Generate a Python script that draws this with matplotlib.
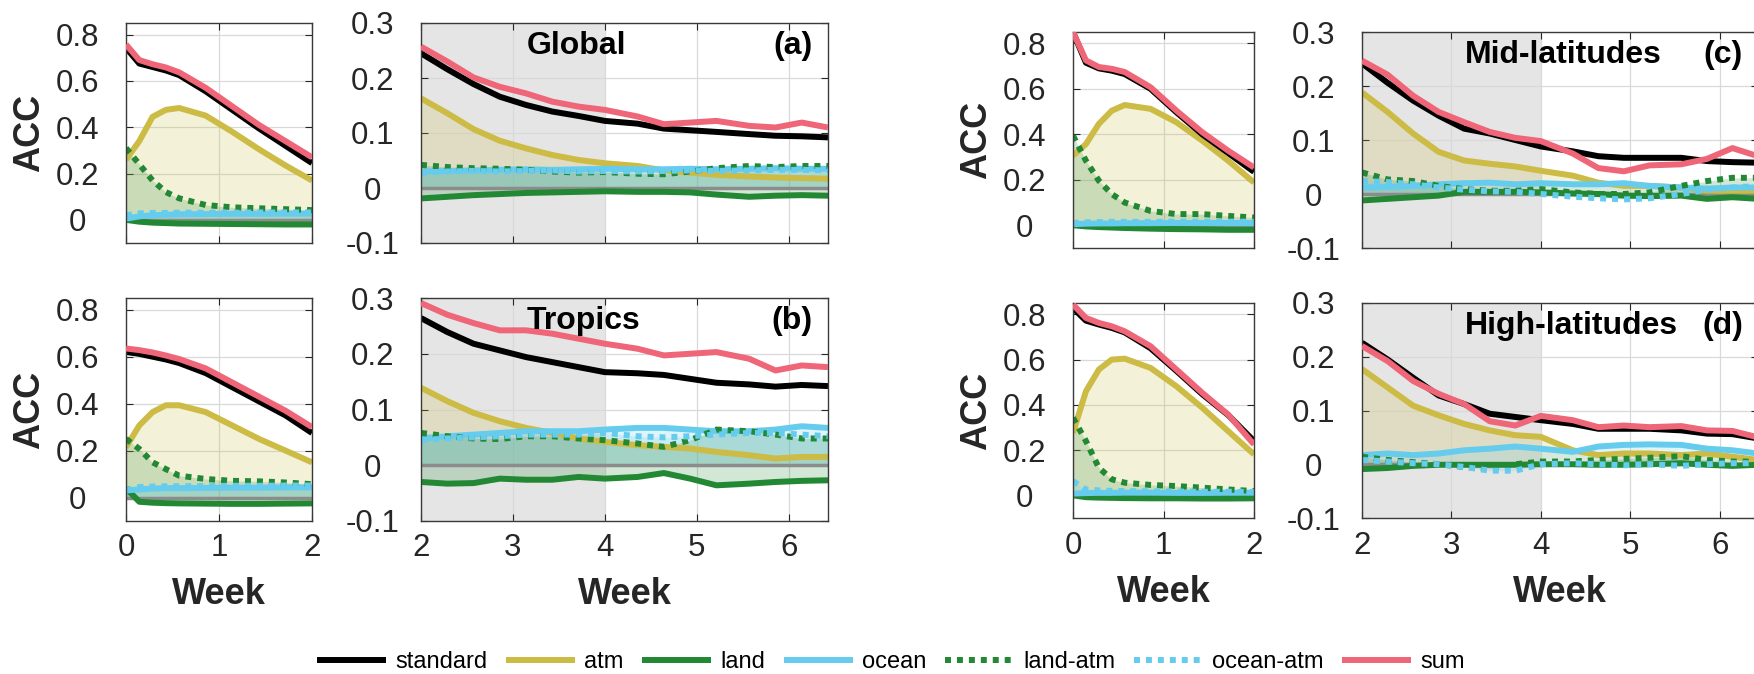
import numpy as np
import matplotlib
matplotlib.use("Agg")
import matplotlib.pyplot as plt

plt.rcParams["font.family"] = ["Liberation Sans", "DejaVu Sans"]
plt.rcParams["axes.unicode_minus"] = False

# lead times (days) for the short-range (0-2 wk) and long-range (2-6.4 wk) panels
days_early = [0, 1, 2, 3, 4, 6, 8, 10, 12, 14]
days_late = [14, 16, 18, 20, 22, 24, 26, 28, 30.5, 32.5, 34.5, 36.5, 39, 41, 43, 45]

# ---- Global (a)
global_early = {
    "standard": [0.743, 0.675, 0.66, 0.645, 0.625, 0.555, 0.475, 0.395, 0.32, 0.245],
    "sum": [0.757, 0.69, 0.672, 0.658, 0.637, 0.57, 0.49, 0.41, 0.34, 0.27],
    "atm": [0.26, 0.34, 0.445, 0.475, 0.483, 0.45, 0.38, 0.305, 0.235, 0.17],
    "land-atm": [0.31, 0.24, 0.17, 0.12, 0.093, 0.064, 0.054, 0.05, 0.046, 0.042],
    "ocean": [0.005, 0.015, 0.02, 0.022, 0.024, 0.025, 0.026, 0.026, 0.027, 0.027],
    "ocean-atm": [0.02, 0.028, 0.03, 0.03, 0.031, 0.031, 0.031, 0.032, 0.032, 0.032],
    "land": [0.0, -0.008, -0.012, -0.014, -0.016, -0.017, -0.018, -0.019, -0.02, -0.02],
}
global_late = {
    "standard": [0.245, 0.216, 0.189, 0.166, 0.151, 0.139, 0.131, 0.122, 0.117, 0.108, 0.105, 0.102, 0.098, 0.095, 0.094, 0.092],
    "sum": [0.257, 0.23, 0.201, 0.184, 0.172, 0.157, 0.148, 0.142, 0.13, 0.116, 0.119, 0.122, 0.113, 0.11, 0.119, 0.11],
    "atm": [0.163, 0.136, 0.107, 0.086, 0.072, 0.06, 0.051, 0.045, 0.04, 0.032, 0.028, 0.024, 0.021, 0.019, 0.018, 0.017],
    "land-atm": [0.042, 0.038, 0.036, 0.035, 0.033, 0.03, 0.028, 0.029, 0.026, 0.025, 0.03, 0.036, 0.04, 0.038, 0.04, 0.04],
    "ocean": [0.03, 0.031, 0.032, 0.033, 0.034, 0.033, 0.034, 0.035, 0.034, 0.034, 0.035, 0.034, 0.035, 0.036, 0.035, 0.035],
    "ocean-atm": [0.028, 0.03, 0.031, 0.03, 0.031, 0.032, 0.03, 0.031, 0.03, 0.031, 0.032, 0.031, 0.032, 0.033, 0.033, 0.032],
    "land": [-0.019, -0.016, -0.013, -0.011, -0.009, -0.008, -0.007, -0.006, -0.007, -0.007, -0.008, -0.012, -0.016, -0.014, -0.013, -0.014],
}

# ---- Tropics (b)
tropics_early = {
    "standard": [0.62, 0.612, 0.6, 0.588, 0.573, 0.53, 0.47, 0.41, 0.35, 0.275],
    "sum": [0.635, 0.628, 0.618, 0.605, 0.59, 0.55, 0.49, 0.43, 0.37, 0.3],
    "atm": [0.214, 0.307, 0.364, 0.393, 0.393, 0.364, 0.307, 0.25, 0.2, 0.15],
    "land-atm": [0.25, 0.207, 0.15, 0.121, 0.093, 0.079, 0.071, 0.069, 0.064, 0.057],
    "ocean": [0.03, 0.035, 0.038, 0.04, 0.04, 0.041, 0.042, 0.042, 0.043, 0.043],
    "ocean-atm": [0.03, 0.045, 0.047, 0.048, 0.048, 0.049, 0.05, 0.05, 0.051, 0.051],
    "land": [0.04, -0.018, -0.022, -0.024, -0.025, -0.026, -0.027, -0.027, -0.026, -0.025],
}
tropics_late = {
    "standard": [0.264, 0.239, 0.218, 0.206, 0.194, 0.185, 0.176, 0.167, 0.165, 0.162, 0.155, 0.148, 0.145, 0.141, 0.144, 0.142],
    "sum": [0.291, 0.27, 0.255, 0.242, 0.242, 0.236, 0.227, 0.218, 0.209, 0.197, 0.2, 0.203, 0.191, 0.17, 0.179, 0.176],
    "atm": [0.139, 0.115, 0.094, 0.079, 0.067, 0.058, 0.048, 0.042, 0.036, 0.033, 0.03, 0.024, 0.018, 0.012, 0.015, 0.015],
    "land-atm": [0.058, 0.052, 0.048, 0.047, 0.052, 0.052, 0.048, 0.045, 0.039, 0.033, 0.045, 0.064, 0.061, 0.055, 0.048, 0.048],
    "ocean": [0.048, 0.052, 0.055, 0.058, 0.061, 0.061, 0.061, 0.064, 0.067, 0.067, 0.064, 0.061, 0.061, 0.064, 0.07, 0.067],
    "ocean-atm": [0.045, 0.048, 0.05, 0.052, 0.055, 0.055, 0.055, 0.058, 0.052, 0.05, 0.052, 0.055, 0.058, 0.058, 0.055, 0.052],
    "land": [-0.03, -0.033, -0.032, -0.024, -0.026, -0.026, -0.021, -0.024, -0.021, -0.014, -0.024, -0.036, -0.033, -0.03, -0.028, -0.027],
}

# ---- Mid-latitudes (c)
mid_early = {
    "standard": [0.85, 0.715, 0.69, 0.68, 0.665, 0.6, 0.497, 0.4, 0.318, 0.235],
    "sum": [0.85, 0.725, 0.696, 0.688, 0.674, 0.607, 0.504, 0.409, 0.328, 0.254],
    "atm": [0.306, 0.357, 0.446, 0.504, 0.529, 0.512, 0.453, 0.372, 0.284, 0.188],
    "land-atm": [0.394, 0.284, 0.196, 0.137, 0.1, 0.063, 0.049, 0.049, 0.041, 0.034],
    "ocean": [0.005, 0.007, 0.008, 0.008, 0.009, 0.009, 0.01, 0.01, 0.01, 0.01],
    "ocean-atm": [0.01, 0.013, 0.014, 0.015, 0.015, 0.015, 0.016, 0.016, 0.016, 0.016],
    "land": [0.0, -0.005, -0.008, -0.01, -0.012, -0.015, -0.017, -0.018, -0.02, -0.02],
}
mid_late = {
    "standard": [0.242, 0.206, 0.173, 0.145, 0.121, 0.112, 0.1, 0.088, 0.079, 0.07, 0.067, 0.067, 0.067, 0.061, 0.059, 0.058],
    "sum": [0.247, 0.221, 0.182, 0.152, 0.133, 0.115, 0.104, 0.098, 0.075, 0.048, 0.042, 0.053, 0.055, 0.065, 0.085, 0.07],
    "atm": [0.188, 0.152, 0.112, 0.078, 0.062, 0.056, 0.051, 0.043, 0.034, 0.021, 0.015, 0.015, 0.012, 0.006, 0.006, 0.006],
    "land-atm": [0.04, 0.027, 0.024, 0.015, 0.009, 0.006, 0.006, 0.009, 0.003, 0.0, 0.0, 0.003, 0.015, 0.024, 0.03, 0.03],
    "ocean": [0.012, 0.013, 0.015, 0.018, 0.02, 0.021, 0.018, 0.02, 0.018, 0.018, 0.02, 0.015, 0.012, 0.01, 0.012, 0.012],
    "ocean-atm": [0.024, 0.022, 0.018, 0.012, 0.008, 0.005, 0.004, 0.0, -0.005, -0.008, -0.01, -0.008, 0.0, 0.008, 0.012, 0.015],
    "land": [-0.012, -0.009, -0.006, -0.003, 0.004, 0.004, 0.004, 0.003, 0.001, 0.0, -0.003, -0.004, -0.003, -0.009, -0.006, -0.009],
}

# ---- High-latitudes (d)
high_early = {
    "standard": [0.828, 0.772, 0.755, 0.74, 0.72, 0.65, 0.55, 0.447, 0.355, 0.24],
    "sum": [0.843, 0.784, 0.762, 0.747, 0.725, 0.659, 0.556, 0.453, 0.357, 0.225],
    "atm": [0.276, 0.46, 0.556, 0.6, 0.604, 0.563, 0.482, 0.387, 0.284, 0.181],
    "land-atm": [0.343, 0.24, 0.122, 0.071, 0.056, 0.046, 0.041, 0.034, 0.026, 0.019],
    "ocean": [0.008, 0.01, 0.011, 0.011, 0.012, 0.012, 0.011, 0.011, 0.012, 0.012],
    "ocean-atm": [0.063, 0.026, 0.022, 0.02, 0.019, 0.018, 0.017, 0.016, 0.016, 0.015],
    "land": [0.0, -0.008, -0.01, -0.011, -0.012, -0.013, -0.013, -0.014, -0.014, -0.013],
}
high_late = {
    "standard": [0.226, 0.195, 0.161, 0.128, 0.112, 0.094, 0.088, 0.082, 0.075, 0.066, 0.066, 0.066, 0.063, 0.057, 0.056, 0.048],
    "sum": [0.22, 0.192, 0.155, 0.131, 0.112, 0.08, 0.072, 0.09, 0.082, 0.069, 0.072, 0.069, 0.071, 0.063, 0.062, 0.05],
    "atm": [0.177, 0.143, 0.109, 0.091, 0.075, 0.063, 0.054, 0.051, 0.026, 0.017, 0.02, 0.02, 0.017, 0.02, 0.014, 0.008],
    "land-atm": [0.014, 0.008, 0.004, 0.0, -0.005, -0.008, 0.0, 0.005, 0.005, 0.008, 0.01, 0.012, 0.015, 0.008, 0.005, 0.005],
    "ocean": [0.017, 0.02, 0.017, 0.02, 0.026, 0.029, 0.033, 0.029, 0.023, 0.033, 0.036, 0.037, 0.036, 0.029, 0.026, 0.02],
    "ocean-atm": [0.008, 0.005, 0.002, 0.0, -0.005, -0.012, -0.012, 0.0, 0.002, 0.0, -0.002, 0.0, -0.003, 0.0, 0.002, 0.002],
    "land": [-0.009, -0.007, -0.003, -0.001, -0.001, -0.001, -0.001, 0.0, 0.0, -0.001, -0.001, 0.0, 0.002, -0.001, -0.003, -0.001],
}

series_order = ["standard", "atm", "land", "ocean", "land-atm", "ocean-atm", "sum"]
colors = {
    "standard": "#000000",
    "atm": "#CCBB44",
    "land": "#228833",
    "ocean": "#66CCEE",
    "land-atm": "#228833",
    "ocean-atm": "#66CCEE",
    "sum": "#EE6677",
}
styles = {k: "-" for k in series_order}
styles["land-atm"] = (0, (1, 1))
styles["ocean-atm"] = (0, (1, 1))
fill_keys = ["atm", "land", "ocean", "land-atm", "ocean-atm"]
draw_keys = ["atm", "land", "ocean", "land-atm", "ocean-atm", "standard", "sum"]

W, H = 1754, 674
fig = plt.figure(figsize=(W / 100, H / 100), dpi=100)
TXT = "#262626"


def add_px_axes(x0, y0, x1, y1):
    return fig.add_axes([x0 / W, 1 - y1 / H, (x1 - x0) / W, (y1 - y0) / H])


def draw(ax, days, data, late):
    x = np.array(days) / 7.0
    if late:
        ax.axvspan(2, 4, color="#e5e5e5", lw=0, zorder=0)
    for k in fill_keys:
        ax.fill_between(x, 0, data[k], color=colors[k], alpha=0.2, lw=0, zorder=1)
    ax.axhline(0, color="#8c8c8c", lw=2.5, zorder=1.5)
    handles = {}
    for i, k in enumerate(draw_keys):
        (h,) = ax.plot(x, data[k], color=colors[k], ls=styles[k], lw=4.3,
                       solid_capstyle="butt", dash_capstyle="butt", zorder=2 + i * 0.1)
        handles[k] = h
    ax.grid(True, color="#d9d9d9", lw=0.9)
    ax.set_axisbelow(True)
    for s in ax.spines.values():
        s.set_color("#3a3a3a")
        s.set_linewidth(1.0)
    ax.tick_params(direction="in", length=5, width=0.8, top=True, right=True,
                   labelsize=22.5, colors=TXT)
    ax.tick_params(axis="x", pad=9)
    ax.tick_params(axis="y", pad=35)
    if late:
        ax.set_xlim(2, 45 / 7)
        ax.set_ylim(-0.1, 0.3)
        ax.set_xticks([2, 3, 4, 5, 6])
        ax.set_yticks([-0.1, 0, 0.1, 0.2, 0.3])
        ax.set_yticklabels(["-0.1", "0", "0.1", "0.2", "0.3"])
    else:
        ax.set_xlim(0, 2)
        ax.set_ylim(-0.1, 0.85)
        ax.set_xticks([0, 1, 2])
        ax.set_yticks([0, 0.2, 0.4, 0.6, 0.8])
        ax.set_yticklabels(["0", "0.2", "0.4", "0.6", "0.8"])
    plt.setp(ax.get_yticklabels(), ha="center")
    return handles


# panel layout in pixels: early box, late box, region name, letter, early data, late data, bottom row
panels = [
    ((126, 23, 312, 243), (421, 23, 828, 243), "Global", "(a)", global_early, global_late, False),
    ((126, 298, 312, 521), (421, 298, 828, 521), "Tropics", "(b)", tropics_early, tropics_late, True),
    ((1073, 32, 1254, 248), (1362, 32, 1758, 248), "Mid-latitudes", "(c)", mid_early, mid_late, False),
    ((1073, 303, 1254, 518), (1362, 303, 1758, 518), "High-latitudes", "(d)", high_early, high_late, True),
]

legend_handles = None
for box_e, box_l, name, letter, d_early, d_late, bottom in panels:
    ax1 = add_px_axes(*box_e)
    ax2 = add_px_axes(*box_l)
    legend_handles = draw(ax1, days_early, d_early, False)
    draw(ax2, days_late, d_late, True)

    w1 = box_e[2] - box_e[0]
    ax1.set_ylabel("ACC", fontsize=26, fontweight="bold", color=TXT, va="center")
    ax1.yaxis.set_label_coords(-96 / w1, 0.5)

    ax2.text(3.15, 0.258, name, fontsize=23, fontweight="bold", ha="left", va="center", zorder=5)
    ax2.text(6.26, 0.258, letter, fontsize=23, fontweight="bold", ha="right", va="center", zorder=5)

    if bottom:
        for ax, box in ((ax1, box_e), (ax2, box_l)):
            h = box[3] - box[1]
            ax.set_xlabel("Week", fontsize=26, fontweight="bold", color=TXT, va="center")
            ax.xaxis.set_label_coords(0.5, -74 / h)
    else:
        ax1.set_xticklabels([])
        ax2.set_xticklabels([])

fig.legend([legend_handles[k] for k in series_order], series_order,
           loc="center", bbox_to_anchor=(0.508, 1 - 662 / H), ncol=7, frameon=False,
           fontsize=17, handlelength=2.9, handletextpad=0.4, columnspacing=0.8)

fig.savefig("out.png", dpi=100)
